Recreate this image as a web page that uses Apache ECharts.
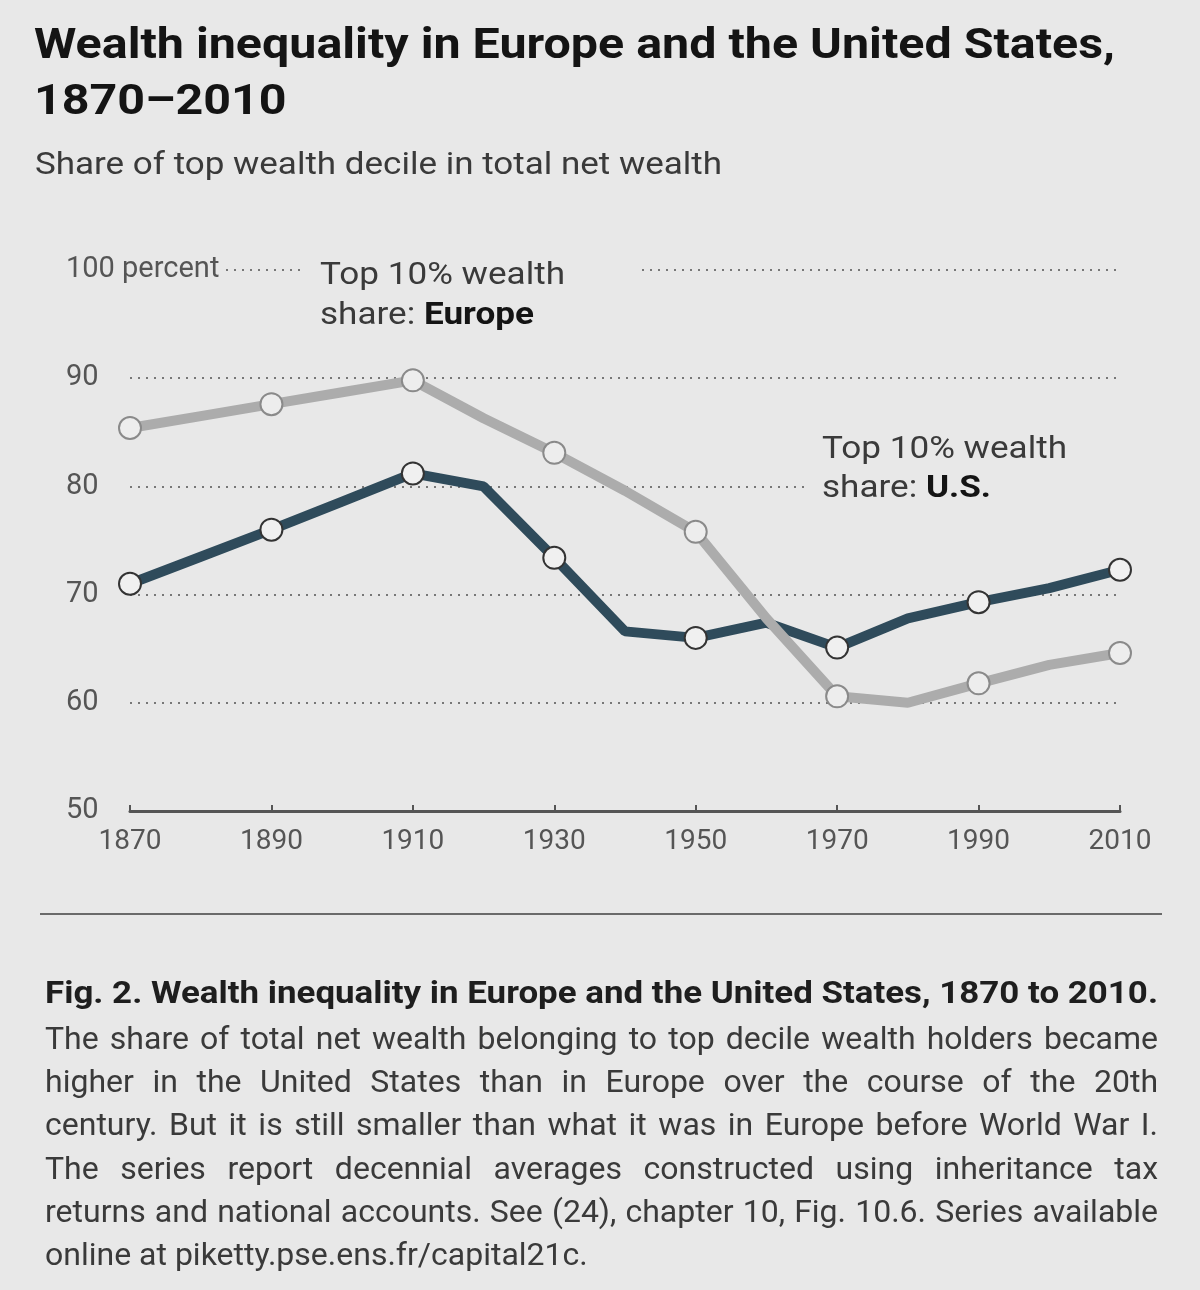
<!DOCTYPE html>
<html>
<head>
<meta charset="utf-8">
<script src="https://cdn.jsdelivr.net/npm/echarts@6/dist/echarts.min.js"></script>
<style>
  html, body { margin: 0; padding: 0; background: #e8e8e8; }
  #main { width: 1200px; height: 1290px; }
</style>
</head>
<body>
<div id="main"></div>
<script>
// decennial averages
var years = [1870, 1880, 1890, 1900, 1910, 1920, 1930, 1940, 1950, 1960, 1970, 1980, 1990, 2000, 2010];
var europe = [85.4, 86.5, 87.6, 88.7, 89.8, 86.3, 83.1, 79.6, 75.8, 67.8, 60.6, 60.0, 61.8, 63.5, 64.6];
var us = [71.0, 73.5, 76.0, 78.6, 81.2, 80.0, 73.4, 66.6, 66.0, 67.4, 65.1, 67.8, 69.3, 70.6, 72.3];
var yTicks = [50, 60, 70, 80, 90, 100];
var xTicks = [1870, 1890, 1910, 1930, 1950, 1970, 1990, 2010];

var captionBold = 'Fig. 2. Wealth inequality in Europe and the United States, 1870 to 2010.';
var captionLines = [
    'The share of total net wealth belonging to top decile wealth holders became',
    'higher in the United States than in Europe over the course of the 20th',
    'century. But it is still smaller than what it was in Europe before World War I.',
    'The series report decennial averages constructed using inheritance tax',
    'returns and national accounts. See (24), chapter 10, Fig. 10.6. Series available',
    'online at piketty.pse.ens.fr/capital21c.'
];

var BG = '#e8e8e8';
var FONT = 'Roboto, "Open Sans", sans-serif';

var myChart = echarts.init(document.getElementById('main'));

function toPoints(vals) {
    return years.map(function (y, i) {
        return {
            value: [y, vals[i]],
            symbol: (y - 1870) % 20 === 0 ? 'circle' : 'none'
        };
    });
}

var measure = document.createElement('canvas').getContext('2d');
function textWidth(s, font) {
    measure.font = font;
    return measure.measureText(s).width;
}

// text stretched to a given width (the print face is wider than Roboto)
function fitText(text, x, y, font, color, scale) {
    return {
        type: 'text', x: x, y: y, scaleX: scale, silent: true, z: 5,
        style: { text: text, font: font, fill: color, verticalAlign: 'middle' }
    };
}

// justified text: words spread across the line width
function justify(text, x, y, width, font, color, last) {
    var words = text.split(' ');
    var widths = words.map(function (w) { return textWidth(w, font); });
    var total = widths.reduce(function (a, b) { return a + b; }, 0);
    var space = textWidth(' ', font);
    var s = 1;
    if (total + space * (words.length - 1) > width) {
        s = width / (total + space * (words.length - 1));
    }
    var gap = last ? space * s : (width - total * s) / (words.length - 1);
    var cx = x;
    return words.map(function (w, i) {
        var el = {
            type: 'text', x: cx, y: y, scaleX: s, silent: true, z: 5,
            style: { text: w, font: font, fill: color, verticalAlign: 'middle' }
        };
        cx += widths[i] * s + gap;
        return el;
    });
}

var titleFont = 'bold 42px ' + FONT;
var titleScale = 1081 / textWidth('Wealth inequality in Europe and the United States,', titleFont);
var subFont = '31px ' + FONT;
var subScale = 687 / textWidth('Share of top wealth decile in total net wealth', subFont);
var noteFont = '32px ' + FONT;
var noteBold = 'bold 32px ' + FONT;
var noteScale = 245 / textWidth('Top 10% wealth', noteFont);

var graphics = [
    fitText('Wealth inequality in Europe and the United States,', 34, 47, titleFont, '#141414', titleScale),
    fitText('1870\u20132010', 34, 103, titleFont, '#141414', titleScale),
    fitText('Share of top wealth decile in total net wealth', 35, 166, subFont, '#3a3a3a', subScale),
    // annotation boxes hide the gridlines behind the labels
    {type: 'rect', shape: {x: 306, y: 252, width: 332, height: 92}, style: {fill: BG}, z: 1},
    fitText('Top 10% wealth', 320, 276, noteFont, '#3a3a3a', noteScale),
    fitText('share: ', 320, 316, noteFont, '#3a3a3a', noteScale),
    fitText('Europe', 320 + textWidth('share: ', noteFont) * noteScale, 316, noteBold, '#141414', noteScale),
    {type: 'rect', shape: {x: 808, y: 428, width: 320, height: 82}, style: {fill: BG}, z: 1},
    fitText('Top 10% wealth', 822, 450, noteFont, '#3a3a3a', noteScale),
    fitText('share: ', 822, 489, noteFont, '#3a3a3a', noteScale),
    fitText('U.S.', 822 + textWidth('share: ', noteFont) * noteScale, 489, noteBold, '#141414', noteScale),
    {type: 'line', shape: {x1: 40, y1: 914, x2: 1162, y2: 914}, style: {stroke: '#6a6a6a', lineWidth: 2}}
];

var capFont = 'bold 31px ' + FONT;
graphics.push(fitText(captionBold, 45, 995, capFont, '#1e1e1e', 1113 / textWidth(captionBold, capFont)));
captionLines.forEach(function (line, i) {
    var last = i === captionLines.length - 1;
    graphics = graphics.concat(justify(line, 45, 1041 + i * 43.2, 1113, '32px ' + FONT, '#3a3a3a', last));
});

var option = {
    backgroundColor: BG,
    animation: false,
    grid: {left: 130, right: 80, top: 270, bottom: 479},
    xAxis: {
        type: 'value', min: 1870, max: 2010, interval: 20,
        axisLine: {lineStyle: {color: '#555', width: 3}},
        axisTick: {inside: true, length: 6, lineStyle: {color: '#555', width: 2}},
        axisLabel: {
            color: '#555', fontFamily: FONT, fontSize: 28, margin: 17,
            formatter: function (v) { return xTicks.indexOf(v) >= 0 ? String(v) : ''; }
        },
        splitLine: {show: false}
    },
    yAxis: {
        type: 'value', min: 50, max: 100, interval: 10,
        axisLine: {show: false},
        axisTick: {show: false},
        axisLabel: {
            color: '#555', fontFamily: FONT, fontSize: 29, align: 'left', margin: 64,
            backgroundColor: BG, padding: [0, 4, 0, 0],
            formatter: function (v) {
                if (yTicks.indexOf(v) < 0) return '';
                return v === 100 ? '100 percent' : String(v);
            }
        },
        splitLine: {lineStyle: {color: '#777', width: 2, type: [2, 6]}}
    },
    series: [
        {
            name: 'US', type: 'line', data: toPoints(us), z: 3,
            symbolSize: 22,
            lineStyle: {color: '#2f4b5b', width: 10},
            itemStyle: {color: '#f0f0f0', borderColor: '#333', borderWidth: 2}
        },
        {
            name: 'Europe', type: 'line', data: toPoints(europe), z: 4,
            symbolSize: 22,
            lineStyle: {color: '#acacac', width: 10},
            itemStyle: {color: '#ededed', borderColor: '#8a8a8a', borderWidth: 2}
        }
    ],
    graphic: graphics
};
myChart.setOption(option);
</script>
</body>
</html>
